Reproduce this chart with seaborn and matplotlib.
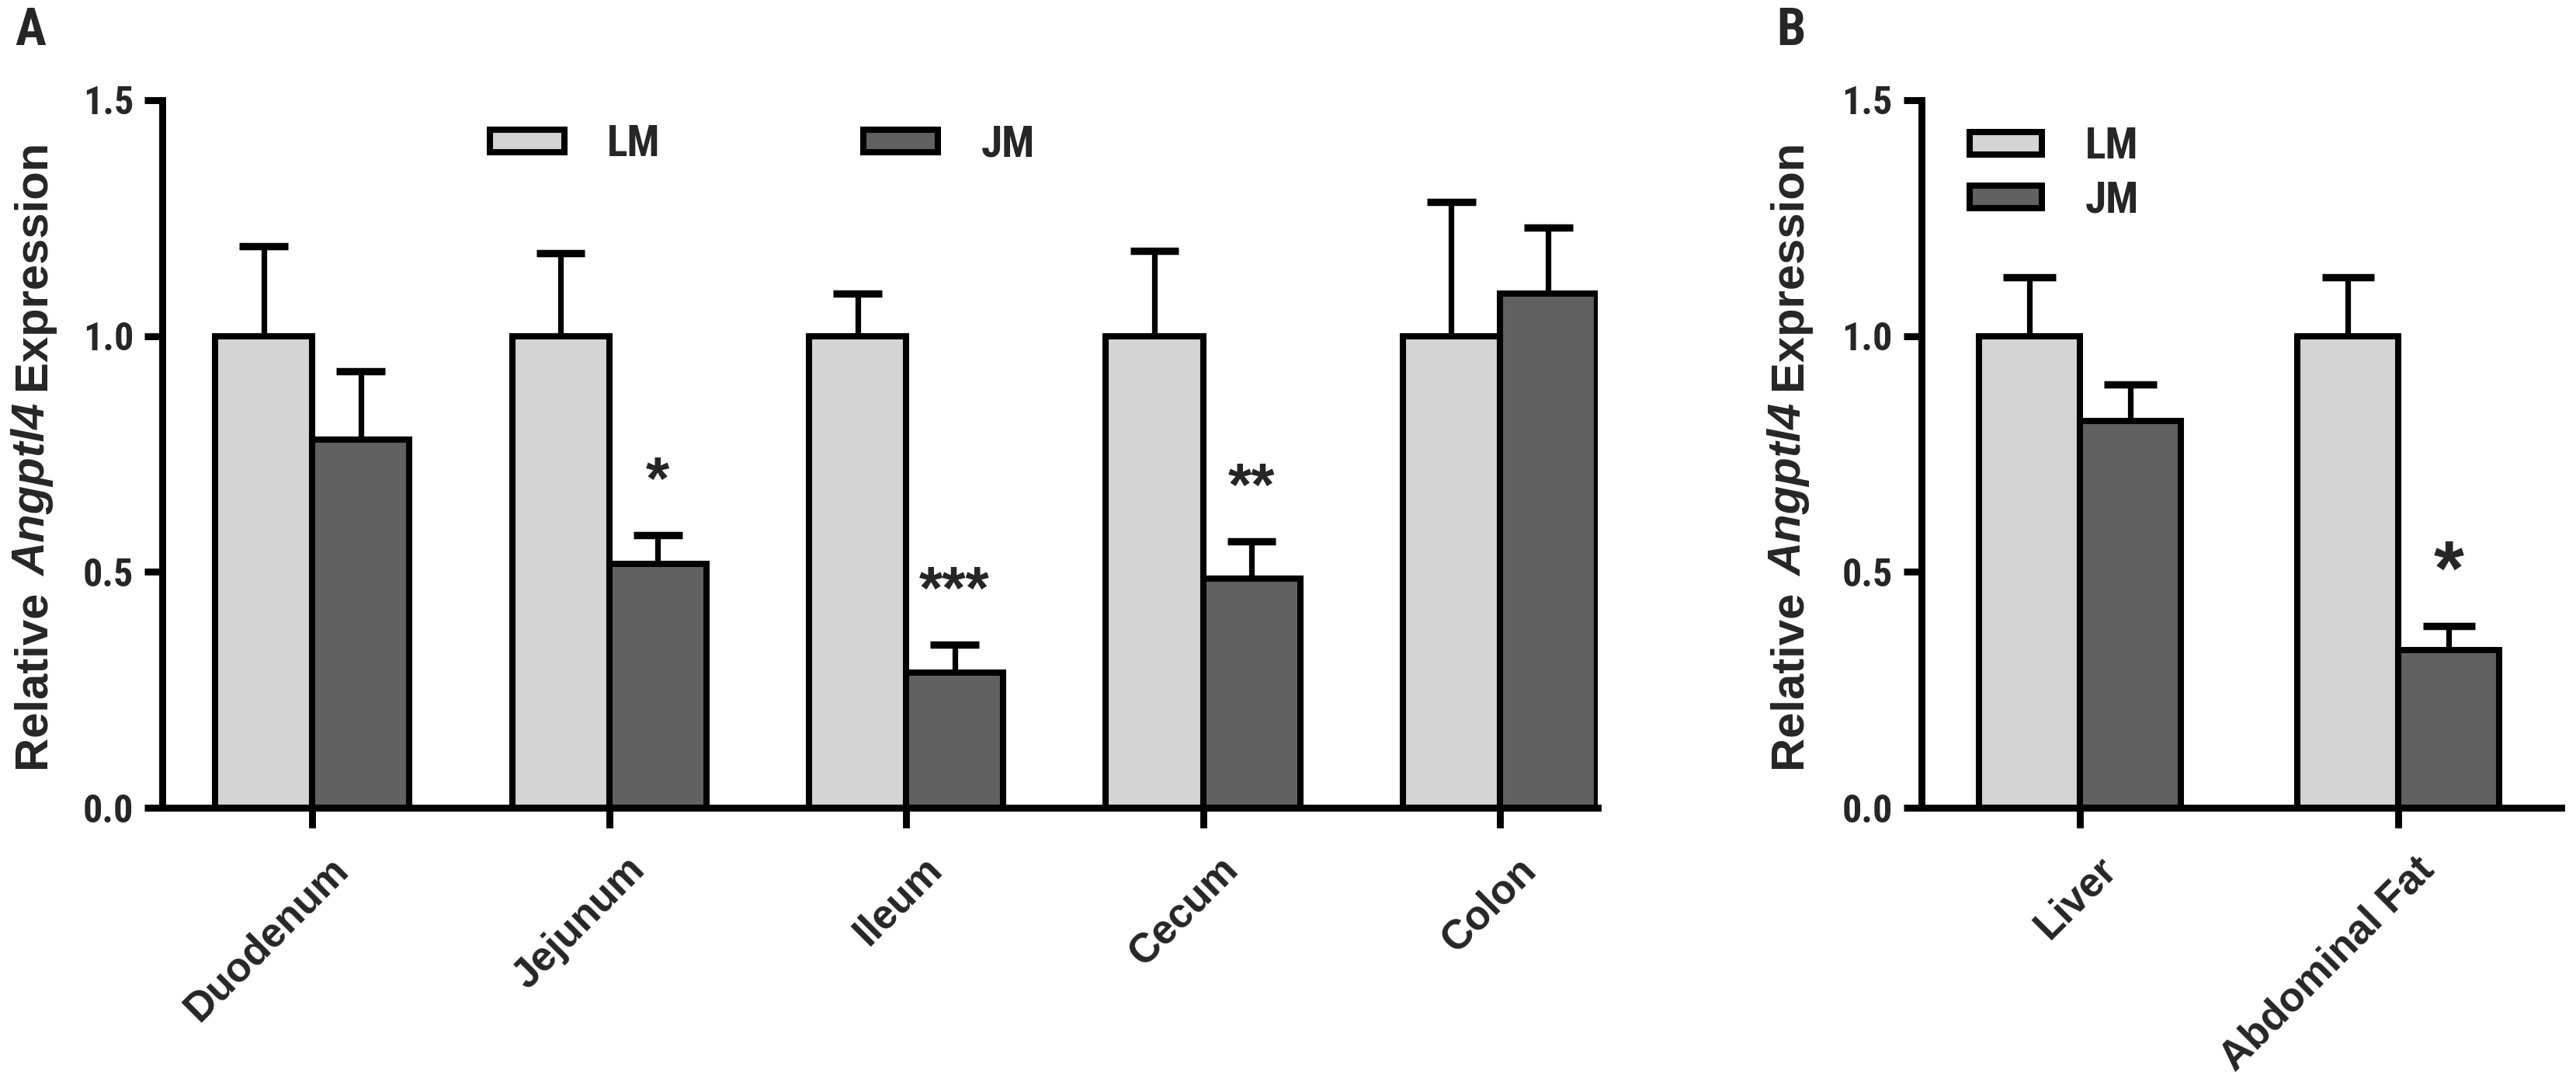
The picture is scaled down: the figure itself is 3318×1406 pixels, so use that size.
import numpy as np
import pandas as pd
import matplotlib
matplotlib.use('Agg')
import matplotlib.pyplot as plt
import matplotlib.transforms as mtransforms
from matplotlib import font_manager
from matplotlib.patches import Patch
import seaborn as sns

# Panel A: intestinal segments
tissues_a = ['Duodenum', 'Jejunum', 'Ileum', 'Cecum', 'Colon']
lm_a = [1.0, 1.0, 1.0, 1.0, 1.0]
lm_err_a = [0.19, 0.175, 0.09, 0.18, 0.285]
jm_a = [0.78, 0.517, 0.286, 0.486, 1.09]
jm_err_a = [0.145, 0.061, 0.06, 0.078, 0.14]
sig_a = ['', '*', '***', '**', '']

# Panel B: liver and fat
tissues_b = ['Liver', 'Abdominal Fat']
lm_b = [1.0, 1.0]
lm_err_b = [0.125, 0.125]
jm_b = [0.82, 0.335]
jm_err_b = [0.078, 0.05]
sig_b = ['', '*']

groups = ['LM', 'JM']
colors = {'LM': '#d4d4d4', 'JM': '#616161'}

# y label pieces: (text, style)
ylabel_parts = [('Relative', 'normal'), ('Angptl4', 'italic'), ('Expression', 'normal')]

sns.set_style('white')

# condensed bold font for ticks / legend, like the original
names = {f.name for f in font_manager.fontManager.ttflist}
narrow = None
for n in ['Liberation Sans Narrow', 'Roboto Condensed', 'DejaVu Sans Condensed', 'Open Sans Condensed']:
    if n in names:
        narrow = n
        break
if narrow is None:
    narrow_fp = dict(family='DejaVu Sans', stretch='condensed', weight='bold')
else:
    narrow_fp = dict(family=narrow, weight='bold')

plt.rcParams['font.family'] = ['Liberation Sans', 'DejaVu Sans']

W, H = 3318, 1406
fig = plt.figure(figsize=(W / 200, H / 200), dpi=200)
ax_a = fig.add_axes([0.063, 0.2603, 0.5573, 0.648])
ax_b = fig.add_axes([0.7459, 0.2603, 0.2484, 0.648])
renderer = fig.canvas.get_renderer()


def rich_ylabel(ax, baseline_px, fontsize):
    # bold label with an italic gene name, stacked piece by piece
    texts = []
    for s, style in ylabel_parts:
        t = fig.text(0, 0, s, fontsize=fontsize, fontweight='bold', fontstyle=style,
                     rotation=90, rotation_mode='anchor', ha='left', va='baseline')
        texts.append(t)
    lens = [t.get_window_extent(renderer).height for t in texts]
    space = 0.3 * fontsize * 200 / 72
    total = sum(lens) + space * (len(lens) - 1)
    bbox = ax.get_position()
    yc = (bbox.y0 + bbox.y1) / 2 * H
    y = yc - total / 2
    for t, L in zip(texts, lens):
        t.set_position((baseline_px / W, y / H))
        y += L + space


def draw_panel(ax, tissues, lm, lm_err, jm, jm_err, sig, width, star_size, xlim):
    df = pd.DataFrame({
        'tissue': tissues * 2,
        'group': ['LM'] * len(tissues) + ['JM'] * len(tissues),
        'value': lm + jm,
    })
    sns.barplot(data=df, x='tissue', y='value', hue='group', hue_order=groups,
                palette=colors, width=width, saturation=1, errorbar=None,
                edgecolor='black', linewidth=2.9, legend=False, ax=ax)

    errs = [lm_err, jm_err]
    for cont, err in zip(ax.containers, errs):
        for bar, e in zip(cont, err):
            xc = bar.get_x() + bar.get_width() / 2
            top = bar.get_height()
            ax.vlines(xc, top, top + e, color='black', lw=2.6, zorder=1)
            ax.hlines(top + e, xc - 0.082, xc + 0.082, color='black', lw=3.4, zorder=1)

    for bar, e, s in zip(ax.containers[1], jm_err, sig):
        if s:
            xc = bar.get_x() + bar.get_width() / 2
            ax.text(xc, bar.get_height() + e + 0.11, s, ha='center', va='center',
                    fontsize=star_size, fontweight='bold', family='Liberation Sans')

    ax.set_ylim(0, 1.5)
    ax.set_xlim(*xlim)
    ax.set_yticks([0, 0.5, 1.0, 1.5])
    ax.set_yticklabels(['0.0', '0.5', '1.0', '1.5'], **narrow_fp, fontsize=18)
    ax.set_xlabel('')
    ax.set_ylabel('')

    sns.despine(ax=ax)
    for sp in ['left', 'bottom']:
        ax.spines[sp].set_linewidth(3.2)
        ax.spines[sp].set_color('black')
    ax.tick_params(axis='x', length=9.5, width=3.2, pad=10, color='black', bottom=True)
    ax.tick_params(axis='y', length=8.3, width=3.2, pad=5, color='black', left=True)

    offset = mtransforms.ScaledTranslation(21 / 200, 0, fig.dpi_scale_trans)
    for lab in ax.get_xticklabels():
        lab.set_rotation(45)
        lab.set_ha('right')
        lab.set_rotation_mode('anchor')
        lab.set_fontsize(19)
        lab.set_fontweight('bold')
        lab.set_transform(lab.get_transform() + offset)


draw_panel(ax_a, tissues_a, lm_a, lm_err_a, jm_a, jm_err_a, sig_a, 0.654, 28,
           (-0.505, 4.33))
draw_panel(ax_b, tissues_b, lm_b, lm_err_b, jm_b, jm_err_b, sig_b, 0.634, 36,
           (-0.498, 1.512))

rich_ylabel(ax_a, 58, 21.5)
rich_ylabel(ax_b, 2320, 21.5)

handles = [Patch(facecolor=colors[g], edgecolor='black', linewidth=2.9, label=g) for g in groups]
leg_font = font_manager.FontProperties(size=20, **narrow_fp)

ax_a.legend(handles=handles, loc='center left', bbox_to_anchor=(0.228, 0.937), ncol=2,
            frameon=False, prop=leg_font, handlelength=1.73, handleheight=0.43,
            handletextpad=1.0, columnspacing=4.7, borderpad=0, borderaxespad=0)
ax_b.legend(handles=handles, loc='center left', bbox_to_anchor=(0.075, 0.896), ncol=1,
            frameon=False, prop=leg_font, handlelength=1.68, handleheight=0.43,
            handletextpad=1.0, labelspacing=0.3, borderpad=0, borderaxespad=0)

fig.text(19 / W, 1 - 8 / H, 'A', ha='left', va='top', fontsize=24, **narrow_fp)
fig.text(2288 / W, 1 - 8 / H, 'B', ha='left', va='top', fontsize=24, **narrow_fp)

fig.savefig('out.png', dpi=200)
